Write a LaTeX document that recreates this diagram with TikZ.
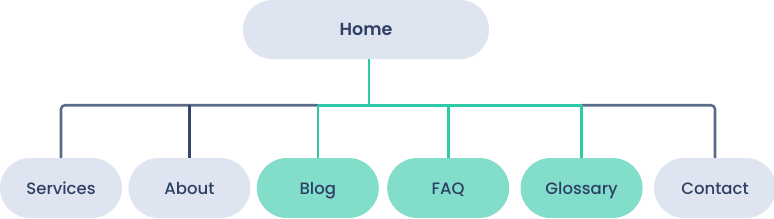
\documentclass[tikz,border=0pt]{standalone}
\usepackage{fontspec}
\setmainfont{Poppins}[UprightFont={Poppins Medium}, BoldFont={Poppins SemiBold}]
\usepackage{tikz}
\usetikzlibrary{positioning}

\definecolor{paleblue}{HTML}{DEE5F0}
\definecolor{mint}{HTML}{83DDCB}
\definecolor{tealline}{HTML}{2ECAA8}
\definecolor{slateline}{HTML}{5D6B8A}
\definecolor{navyline}{HTML}{34466A}
\definecolor{inktext}{HTML}{2F4066}

\begin{document}
\begin{tikzpicture}[x=1pt, y=1pt]
	% Styles
	\tikzstyle{page} = [rectangle, fill=paleblue, minimum height=60pt, minimum width=122pt, rounded corners=30pt, inner sep=0pt, text height=13pt, text depth=1pt, align=center, text=inktext, font=\fontsize{16.5}{20}\selectfont]
	\tikzstyle{hot} = [page, fill=mint]
	\tikzstyle{root} = [page, minimum height=59pt, minimum width=246pt, rounded corners=29pt, font=\fontsize{17.5}{20}\selectfont\bfseries]
	\tikzstyle{greyline} = [draw=slateline, line width=2.6pt]
	\tikzstyle{greenline} = [draw=tealline, line width=2.6pt]

	\useasboundingbox (0,0) rectangle (774,-218);

	% Nodes
	\node (home) [root] at (366,-29.5) {Home};
	\node (services) [page] at (61,-188) {Services};
	\node (about) [page, right=6pt of services] {About};
	\node (blog) [hot, right=6pt of about] {Blog};
	\node (faq) [hot, right=8pt of blog] {FAQ};
	\node (glossary) [hot, right=11pt of faq] {Glossary};
	\node (contact) [page, right=11pt of glossary] {Contact};
	\coordinate (bus) at ([xshift=3pt, yshift=-46pt]home.south);

	% Connections
	\draw [greyline, rounded corners=4pt] (services.north) |- (blog.north |- bus);
	\draw [greyline, rounded corners=4pt] (contact.north) |- (glossary.north |- bus);
	\draw [draw=navyline, line width=2.6pt] (about.north) -- (about.north |- bus);
	\draw [greenline] (blog.north |- bus) -- (glossary.north |- bus);
	\draw [greenline] ([xshift=3pt]home.south) -- (bus);
	\draw [greenline] (blog.north) -- (blog.north |- bus);
	\draw [greenline] (faq.north) -- (faq.north |- bus);
	\draw [greenline] (glossary.north) -- (glossary.north |- bus);
\end{tikzpicture}
\end{document}
